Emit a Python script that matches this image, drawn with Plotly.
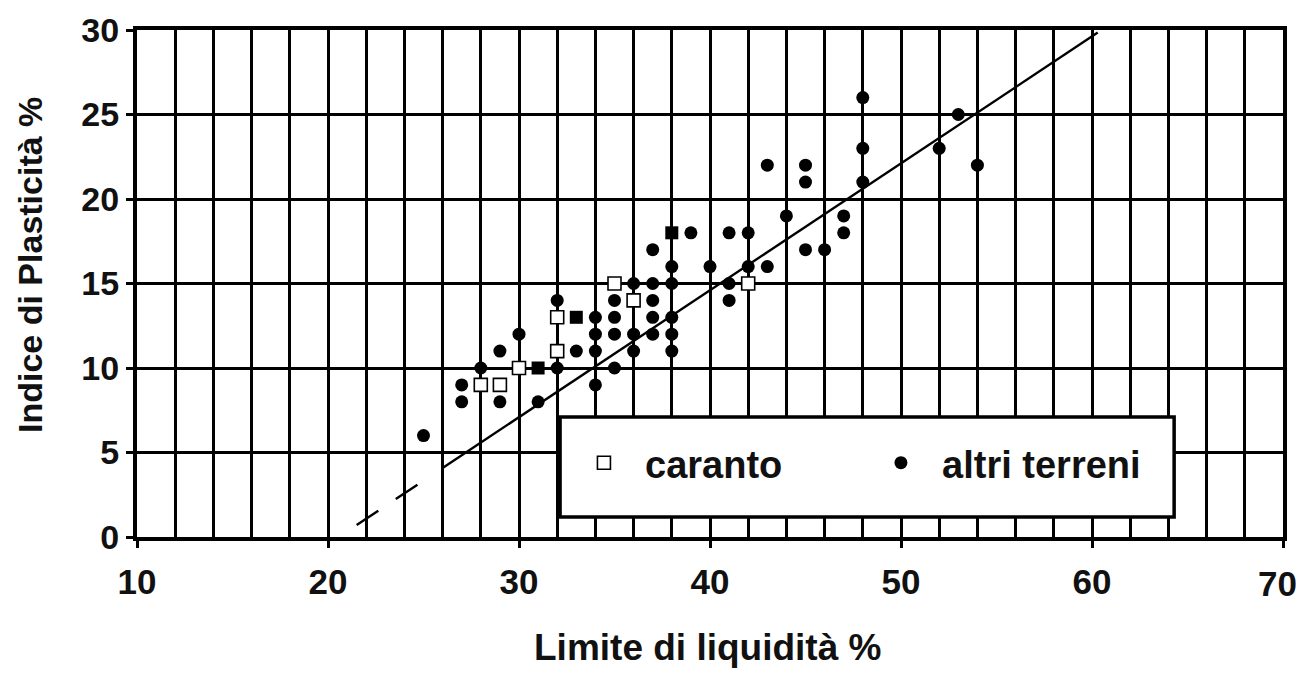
import numpy as np
import plotly.graph_objects as go

# ---- data ----
altri_x = [25, 27, 27, 28, 29, 29, 30, 31, 32, 32, 33,
           34, 34, 34, 34, 35, 35, 35, 35, 36, 36, 36,
           37, 37, 37, 37, 37, 38, 38, 38, 38, 38,
           39, 40, 41, 41, 41, 42, 42, 43, 43, 44,
           45, 45, 45, 46, 47, 47, 48, 48, 48, 52, 53, 54]
altri_y = [6, 9, 8, 10, 8, 11, 12, 8, 14, 10, 11,
           13, 12, 11, 9, 14, 13, 12, 10, 15, 12, 11,
           17, 15, 14, 13, 12, 16, 15, 13, 12, 11,
           18, 16, 18, 15, 14, 18, 16, 16, 22, 19,
           22, 21, 17, 17, 19, 18, 26, 23, 21, 23, 25, 22]

caranto_x = [28, 29, 30, 32, 32, 35, 36, 42]
caranto_y = [9, 9, 10, 13, 11, 15, 14, 15]

filled_sq_x = [31, 33, 38]
filled_sq_y = [10, 13, 18]

fit_slope = 0.751
fit_x0 = 20.56          # x where the fitted line crosses 0
fit_solid_x = [26.0, 60.3]
fit_dash_x = [21.5, 24.7]

x_ticks = [10, 20, 30, 40, 50, 60, 70]
y_ticks = [0, 5, 10, 15, 20, 25, 30]

FONT = "Liberation Sans, Arial, sans-serif"
INK = "#111"

def fit(xs):
    xs = np.asarray(xs, dtype=float)
    return fit_slope * (xs - fit_x0)

fig = go.Figure()

fig.add_trace(go.Scatter(
    x=fit_solid_x, y=fit(fit_solid_x), mode="lines",
    line=dict(color="black", width=2.4), showlegend=False, hoverinfo="skip"))
fig.add_trace(go.Scatter(
    x=fit_dash_x, y=fit(fit_dash_x), mode="lines",
    line=dict(color="black", width=2.4, dash="26px,21px"),
    showlegend=False, hoverinfo="skip"))

fig.add_trace(go.Scatter(
    x=caranto_x, y=caranto_y, mode="markers", name="\u00a0\u00a0caranto",
    marker=dict(symbol="square", size=13, color="white",
                line=dict(color="black", width=1.6))))
fig.add_trace(go.Scatter(
    x=altri_x, y=altri_y, mode="markers", name="\u00a0\u00a0altri terreni",
    marker=dict(symbol="circle", size=13, color="black",
                line=dict(width=0))))
fig.add_trace(go.Scatter(
    x=filled_sq_x, y=filled_sq_y, mode="markers", showlegend=False,
    marker=dict(symbol="square", size=13, color="black",
                line=dict(width=0))))

# legend box
fig.add_shape(type="rect", xref="x", yref="y",
              x0=32.15, x1=64.3, y0=1.18, y1=7.1,
              line=dict(color="black", width=3.5),
              fillcolor="white", layer="above")

# axis titles
fig.add_annotation(text="Limite di liquidità %", xref="paper", yref="paper",
                   x=(707 - 137) / 1146, y=-(647 - 537) / 507,
                   xanchor="center", yanchor="middle", showarrow=False,
                   font=dict(family=FONT, size=37, weight="bold", color=INK))
fig.add_annotation(text="Indice di Plasticità %", xref="paper", yref="paper",
                   x=-(137 - 30) / 1146, y=(537 - 265) / 507,
                   xanchor="center", yanchor="middle", showarrow=False,
                   textangle=-90,
                   font=dict(family=FONT, size=34, weight="bold", color=INK))

# last x tick label sits at the page edge: draw it as a label nudged inside
x_ticktext = [str(v) for v in x_ticks[:-1]] + [""]
fig.add_annotation(text=str(x_ticks[-1]), xref="x", yref="paper",
                   x=x_ticks[-1], y=-(583 - 537) / 507,
                   xanchor="center", yanchor="middle", showarrow=False,
                   xshift=-6,
                   font=dict(family=FONT, size=35, weight="bold", color=INK))

fig.update_layout(
    width=1289, height=660,
    margin=dict(l=129, r=14, t=22, b=131, autoexpand=False),
    paper_bgcolor="white", plot_bgcolor="white",
    font=dict(family=FONT, color=INK),
    showlegend=True,
    legend=dict(orientation="h", x=0.39, xanchor="left",
                y=0.146, yanchor="middle",
                bgcolor="rgba(0,0,0,0)", borderwidth=0,
                font=dict(family=FONT, size=38, weight="bold", color=INK),
                entrywidth=252, entrywidthmode="pixels",
                itemsizing="trace"),
    xaxis=dict(
        range=[10, 70], tickvals=x_ticks, ticktext=x_ticktext,
        automargin=False,
        showline=True, linecolor="black", linewidth=4, mirror=True,
        ticks="outside", ticklen=7, tickwidth=3, tickcolor="black",
        showgrid=True, gridcolor="black", gridwidth=2.5,
        minor=dict(dtick=2, tick0=10, showgrid=True, gridcolor="black",
                   gridwidth=2.5, ticks=""),
        zeroline=False,
        tickfont=dict(family=FONT, size=35, weight="bold", color=INK),
        ticklabelstandoff=4,
    ),
    yaxis=dict(
        range=[0, 30], tickvals=y_ticks, ticktext=[str(v) for v in y_ticks],
        automargin=False,
        showline=True, linecolor="black", linewidth=4, mirror=True,
        ticks="outside", ticklen=7, tickwidth=3, tickcolor="black",
        showgrid=True, gridcolor="black", gridwidth=2.5,
        zeroline=False,
        tickfont=dict(family=FONT, size=34, weight="bold", color=INK),
        ticklabelstandoff=0,
        ticklabeloverflow="allow",
    ),
)

fig.write_html("out.html", config={"displayModeBar": False})
